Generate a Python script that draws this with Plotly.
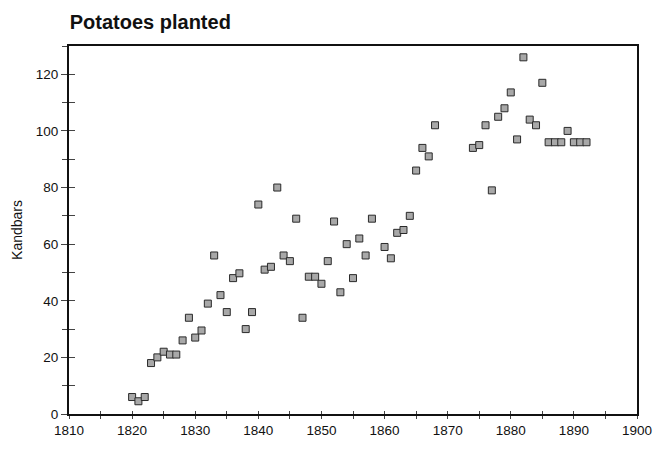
import plotly.graph_objects as go

years = [
    1820, 1821, 1822, 1823, 1824, 1825, 1826, 1827, 1828, 1829,
    1830, 1831, 1832, 1833, 1834, 1835, 1836, 1837, 1838, 1839,
    1840, 1841, 1842, 1843, 1844, 1845, 1846, 1847, 1848, 1849,
    1850, 1851, 1852, 1853, 1854, 1855, 1856, 1857, 1858,
    1860, 1861, 1862, 1863, 1864, 1865, 1866, 1867, 1868,
    1874, 1875, 1876, 1877, 1878, 1879, 1880, 1881, 1882, 1883,
    1884, 1885, 1886, 1887, 1888, 1889, 1890, 1891, 1892,
]
kandbars = [
    6, 4.5, 6, 18, 20, 22, 21, 21, 26, 34,
    27, 29.5, 39, 56, 42, 36, 48, 49.7, 30, 36,
    74, 51, 52, 80, 56, 54, 69, 34, 48.5, 48.5,
    46, 54, 68, 43, 60, 48, 62, 56, 69,
    59, 55, 64, 65, 70, 86, 94, 91, 102,
    94, 95, 102, 79, 105, 108, 113.6, 97, 126, 104,
    102, 117, 96, 96, 96, 100, 96, 96, 96,
]

x_range = [1810, 1900]
y_range = [0, 130]

fig = go.Figure()
fig.add_trace(go.Scatter(
    x=years, y=kandbars, mode="markers",
    marker=dict(symbol="square", size=7, color="#a8a8a8",
                line=dict(width=1, color="#2a2a2a")),
    showlegend=False, hoverinfo="x+y",
))
# invisible trace to anchor overlay axes (for crossing tick marks)
fig.add_trace(go.Scatter(x=[x_range[0]], y=[y_range[0]], xaxis="x2", yaxis="y2",
                         mode="markers", marker=dict(opacity=0), showlegend=False,
                         hoverinfo="skip"))

axis_font = dict(family="Liberation Sans, Arial, sans-serif", size=13.5, color="#111")
fig.update_layout(
    autosize=True,
    margin=dict(l=69, r=15, t=46, b=29),
    paper_bgcolor="white", plot_bgcolor="white",
    title=dict(text="<b>Potatoes planted</b>", x=0.105, xanchor="left",
               y=0.951, yanchor="middle",
               font=dict(family="Liberation Sans, Arial, sans-serif", size=20, color="#111")),
    xaxis=dict(range=x_range, dtick=10, tick0=1810, showgrid=False, zeroline=False,
               showline=True, linecolor="#111", linewidth=2, mirror=True,
               ticks="outside", ticklen=3, tickcolor="#444",
               minor=dict(dtick=5, ticks="outside", ticklen=3, tickcolor="#444"),
               tickfont=axis_font, ticklabeloverflow="allow"),
    yaxis=dict(range=y_range, dtick=20, tick0=0, showgrid=False, zeroline=False,
               showline=True, linecolor="#111", linewidth=2, mirror=True,
               ticks="outside", ticklen=6, tickcolor="#444",
               minor=dict(dtick=10, ticks="outside", ticklen=5, tickcolor="#444"),
               tickfont=axis_font,
               title=dict(text="Kandbars", font=dict(family="Liberation Sans, Arial, sans-serif",
                                                      size=14, color="#111"), standoff=10)),
    xaxis2=dict(range=x_range, overlaying="x", side="bottom", dtick=5, tick0=1810,
                showticklabels=False, showgrid=False, zeroline=False, showline=False,
                ticks="inside", ticklen=3, tickcolor="#444"),
    yaxis2=dict(range=y_range, overlaying="y", side="left", dtick=10, tick0=0,
                showticklabels=False, showgrid=False, zeroline=False, showline=False,
                ticks="inside", ticklen=6, tickcolor="#444"),
)
post = (
    "document.documentElement.style.overflow='hidden';"
    "document.body.style.margin='0';"
    "document.body.style.padding='0';"
    "document.body.style.overflow='hidden';"
)
fig.write_html("out.html", config={"displayModeBar": False, "responsive": True},
               default_width="100vw", default_height="100vh", post_script=post)
